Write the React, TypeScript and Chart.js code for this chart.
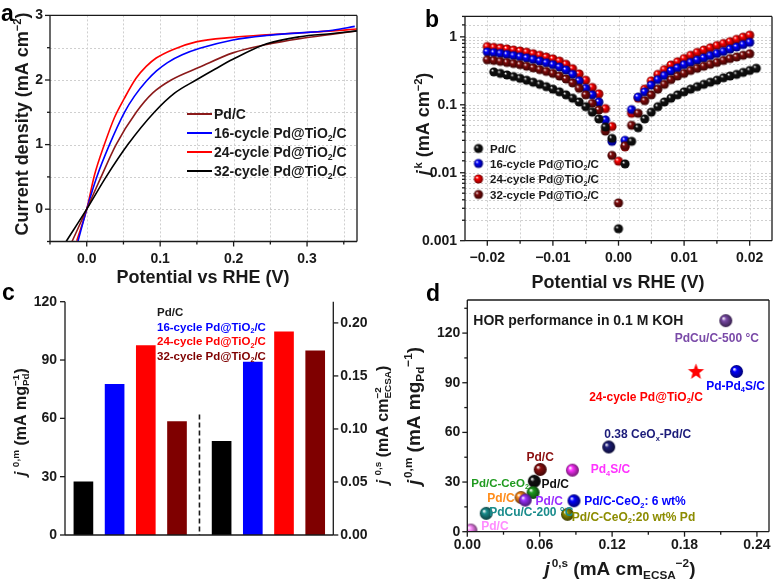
import React, { useEffect, useRef } from 'react';
import { Chart, registerables } from 'chart.js';
Chart.register(...registerables);

const W = 778;
const H = 582;
const FAM = '"Liberation Sans", Arial, Helvetica, sans-serif';
const INK = '#1a1a1a';

// ---------- Panel a : polarization curves ----------
const aV_PdC = [-0.020, 0, 0.0196, 0.040, 0.0674, 0.090, 0.115, 0.154, 0.199, 0.245, 0.290, 0.335, 0.368];
const aJ_PdC = [-0.50, 0, 0.50, 1.00, 1.50, 1.80, 2.00, 2.20, 2.42, 2.55, 2.64, 2.71, 2.76];
const aV_16 = [-0.012, 0, 0.0137, 0.031, 0.0514, 0.065, 0.081, 0.095, 0.110, 0.130, 0.154, 0.199, 0.245, 0.290, 0.335, 0.365];
const aJ_16 = [-0.50, 0, 0.50, 1.00, 1.50, 1.75, 1.98, 2.14, 2.27, 2.39, 2.49, 2.62, 2.69, 2.73, 2.77, 2.83];
const aV_24 = [-0.0136, 0, 0.0105, 0.024, 0.0378, 0.0514, 0.0674, 0.081, 0.0946, 0.117, 0.149, 0.199, 0.245, 0.290, 0.335, 0.368];
const aJ_24 = [-0.49, 0, 0.525, 1.00, 1.42, 1.72, 2.03, 2.21, 2.34, 2.47, 2.59, 2.66, 2.70, 2.73, 2.76, 2.79];
const aV_32 = [-0.028, 0, 0.0264, 0.056, 0.092, 0.120, 0.149, 0.175, 0.199, 0.245, 0.290, 0.335, 0.368];
const aJ_32 = [-0.50, 0, 0.50, 1.00, 1.50, 1.80, 2.00, 2.17, 2.32, 2.56, 2.67, 2.72, 2.76];

// ---------- Panel b : kinetic current (log) ----------
const bV = [-0.020, -0.019, -0.018, -0.017, -0.016, -0.015, -0.014, -0.013, -0.012, -0.011,
  -0.010, -0.009, -0.008, -0.007, -0.006, -0.005, -0.004, -0.003, -0.002, -0.001,
  0.000, 0.001, 0.002, 0.003, 0.004, 0.005, 0.006, 0.007, 0.008, 0.009,
  0.010, 0.011, 0.012, 0.013, 0.014, 0.015, 0.016, 0.017, 0.018, 0.019, 0.020, 0.021];
const bPdC = [null, 0.305, 0.29, 0.275, 0.26, 0.245, 0.23, 0.215, 0.2, 0.185,
  0.17, 0.155, 0.14, 0.125, 0.11, 0.094, 0.078, 0.062, 0.047, 0.032,
  0.0015, 0.0135, 0.029, 0.046, 0.062, 0.078, 0.094, 0.11, 0.125, 0.14,
  0.155, 0.17, 0.185, 0.2, 0.215, 0.23, 0.25, 0.265, 0.28, 0.3, 0.32, 0.345];
const b16 = [0.60, 0.585, 0.57, 0.55, 0.53, 0.51, 0.49, 0.465, 0.44, 0.415,
  0.39, 0.36, 0.325, 0.28, 0.225, 0.175, 0.14, 0.11, 0.06, 0.029,
  null, 0.03, 0.085, 0.13, 0.155, 0.195, 0.235, 0.27, 0.315, 0.35,
  0.39, 0.42, 0.455, 0.49, 0.53, 0.57, 0.61, 0.66, 0.71, 0.77, 0.83, null];
const b24 = [0.72, 0.70, 0.685, 0.665, 0.64, 0.62, 0.595, 0.565, 0.535, 0.505,
  0.475, 0.44, 0.395, 0.34, 0.285, 0.23, 0.18, 0.145, 0.088, 0.048,
  0.0148, 0.024, 0.075, 0.125, 0.17, 0.225, 0.28, 0.33, 0.385, 0.43,
  0.48, 0.535, 0.59, 0.64, 0.69, 0.745, 0.80, 0.85, 0.92, 0.99, 1.06, null];
const b32 = [0.46, 0.45, 0.435, 0.42, 0.405, 0.39, 0.37, 0.35, 0.33, 0.31,
  0.29, 0.265, 0.24, 0.21, 0.175, 0.14, 0.105, 0.084, 0.041, 0.018,
  0.0036, 0.025, 0.05, 0.075, 0.115, 0.14, 0.17, 0.2, 0.235, 0.265,
  0.29, 0.32, 0.345, 0.37, 0.395, 0.42, 0.45, 0.48, 0.505, 0.535, 0.565, null];

// ---------- Panel c : exchange current bars ----------
const cMassX = [1, 2, 3, 4];
const cMassY = [27.4, 77.5, 97.4, 58.3];
const cAreaX = [5.43, 6.43, 7.43, 8.43];
const cAreaY = [0.0883, 0.163, 0.1917, 0.1736];
const cColors = ['#000000', '#0000ff', '#ff0000', '#7f0000'];
const cDividerX = 4.72;
const cDividerTop = 62;

// ---------- Panel d : literature comparison ----------
const dNames = ['PdCu/C-500 °C', 'Pd-Pd4S/C', '0.38 CeOx-Pd/C', 'Pd/C', 'Pd4S/C', 'Pd/C', 'Pd/C-CeO2',
  'Pd/C', 'Pd/C', 'Pd/C-CeO2: 6 wt%', 'PdCu/C-200 °C', 'Pd/C-CeO2:20 wt% Pd', 'Pd/C'];
const dX = [0.2142, 0.2231, 0.1172, 0.0604, 0.0871, 0.0555, 0.0545, 0.0445, 0.048, 0.0884, 0.0157, 0.083, 0.003];
const dY = [127.5, 96.8, 51.2, 37.6, 37.2, 30.5, 23.7, 20.7, 19.1, 18.7, 11.1, 10.5, 1.0];
const dColors = ['#7a4aa8', '#0000ff', '#1c1c7a', '#8b1010', '#ff33ff', '#111111', '#1f9a1f',
  '#ff8c1a', '#9b30ff', '#0000ff', '#1a8c8c', '#8c8c00', '#ff8cff'];
const dStarX = [0.1895];
const dStarY = [96.8];
const dStarName = '24-cycle Pd@TiO2/C';
// label offsets from each marker (px)
const dLabelDx = [-9, -1, 39, 0, 38, 21, -33, -20, 24, 61, 45, 66, 24];
const dLabelDy = [17, 14, -13, -13, -1, 2, -10, 0, 1, 0, -2, 2, -4];

type Seg = { t: string; s?: 'sup' | 'sub'; it?: boolean; st?: [string, string] };
const T = (t: string): Seg => ({ t });
const SUP = (t: string): Seg => ({ t, s: 'sup' });
const SUB = (t: string): Seg => ({ t, s: 'sub' });
const IT = (t: string): Seg => ({ t, it: true });

function richName(name: string): Seg[] {
  const map: Record<string, Seg[]> = {
    'Pd-Pd4S/C': [T('Pd-Pd'), SUB('4'), T('S/C')],
    'Pd4S/C': [T('Pd'), SUB('4'), T('S/C')],
    '0.38 CeOx-Pd/C': [T('0.38 CeO'), SUB('x'), T('-Pd/C')],
    'Pd/C-CeO2': [T('Pd/C-CeO'), SUB('2')],
    'Pd/C-CeO2: 6 wt%': [T('Pd/C-CeO'), SUB('2'), T(': 6 wt%')],
    'Pd/C-CeO2:20 wt% Pd': [T('Pd/C-CeO'), SUB('2'), T(':20 wt% Pd')],
  };
  if (map[name]) return map[name];
  const m = name.match(/^(.*)TiO2(.*)$/);
  if (m) return [T(m[1] + 'TiO'), SUB('2'), T(m[2])];
  return [T(name)];
}

const seriesNames = ['Pd/C', '16-cycle Pd@TiO2/C', '24-cycle Pd@TiO2/C', '32-cycle Pd@TiO2/C'];

function fnt(size: number, it = false) {
  return `${it ? 'italic ' : ''}bold ${size}px ${FAM}`;
}
function segW(ctx: CanvasRenderingContext2D, g: Seg, size: number) {
  if (g.st) {
    ctx.font = fnt(size * 0.62);
    return Math.max(ctx.measureText(g.st[0]).width, ctx.measureText(g.st[1]).width);
  }
  ctx.font = fnt(g.s ? size * 0.62 : size, g.it);
  return ctx.measureText(g.t).width + (g.it ? size * 0.1 : 0);
}
function rich(ctx: CanvasRenderingContext2D, segs: Seg[], x: number, y: number, size: number, color: string,
  align: 'left' | 'center' = 'left', rot = 0) {
  ctx.save();
  ctx.translate(x, y);
  if (rot) ctx.rotate(rot);
  ctx.fillStyle = color;
  ctx.textAlign = 'left';
  ctx.textBaseline = 'alphabetic';
  const ws = segs.map((g) => segW(ctx, g, size));
  const total = ws.reduce((a, b) => a + b, 0);
  let cx = align === 'center' ? -total / 2 : 0;
  const base = size * 0.36;
  segs.forEach((g, i) => {
    if (g.st) {
      ctx.font = fnt(size * 0.62);
      ctx.fillText(g.st[0], cx, base - size * 0.45);
      ctx.fillText(g.st[1], cx, base + size * 0.22);
    } else {
      ctx.font = fnt(g.s ? size * 0.62 : size, g.it);
      const dy = g.s === 'sup' ? -size * 0.42 : g.s === 'sub' ? size * 0.22 : 0;
      ctx.fillText(g.t, cx, base + dy);
    }
    cx += ws[i];
  });
  ctx.restore();
}
function letter(ctx: CanvasRenderingContext2D, t: string, x: number, y: number) {
  ctx.save();
  ctx.font = `bold 23px ${FAM}`;
  ctx.fillStyle = '#000';
  ctx.textAlign = 'left';
  ctx.textBaseline = 'alphabetic';
  ctx.fillText(t, x, y);
  ctx.restore();
}

function shade(hex: string, f: number) {
  const n = parseInt(hex.slice(1), 16);
  const r = Math.round(((n >> 16) & 255) * f);
  const g = Math.round(((n >> 8) & 255) * f);
  const b = Math.round((n & 255) * f);
  return `rgb(${r},${g},${b})`;
}
function makeSphere(color: string, r: number): HTMLCanvasElement {
  const s = Math.ceil(2 * r + 2);
  const c = document.createElement('canvas');
  c.width = s;
  c.height = s;
  const g = c.getContext('2d')!;
  const cx = s / 2, cy = s / 2;
  const grad = g.createRadialGradient(cx - r * 0.38, cy - r * 0.38, r * 0.05, cx, cy, r);
  grad.addColorStop(0, '#ffffff');
  grad.addColorStop(0.3, color);
  grad.addColorStop(1, shade(color, 0.45));
  g.fillStyle = grad;
  g.beginPath();
  g.arc(cx, cy, r, 0, Math.PI * 2);
  g.fill();
  return c;
}
function makeStar(color: string, R: number): HTMLCanvasElement {
  const s = Math.ceil(2 * R + 2);
  const c = document.createElement('canvas');
  c.width = s;
  c.height = s;
  const g = c.getContext('2d')!;
  g.fillStyle = color;
  g.beginPath();
  for (let i = 0; i < 10; i++) {
    const rr = i % 2 === 0 ? R : R * 0.42;
    const ang = -Math.PI / 2 + (i * Math.PI) / 5;
    const px = s / 2 + rr * Math.cos(ang);
    const py = s / 2 + 0.5 + rr * Math.sin(ang);
    if (i === 0) g.moveTo(px, py); else g.lineTo(px, py);
  }
  g.closePath();
  g.fill();
  return c;
}

type Side = 'left' | 'right' | 'bottom';
function scaleOpt(o: {
  pos: Side; min: number; max: number; step?: number; size: number; pad: number;
  label?: (v: number) => string; type?: string; showLabels?: boolean;
}) {
  return {
    type: o.type || 'linear',
    position: o.pos,
    min: o.min,
    max: o.max,
    offset: false,
    grid: { display: false, drawOnChartArea: false, drawTicks: false },
    border: { display: false },
    ticks: {
      display: o.showLabels !== false,
      stepSize: o.step,
      autoSkip: false,
      maxRotation: 0,
      minRotation: 0,
      includeBounds: false,
      padding: o.pad,
      color: INK,
      font: { family: FAM, size: 14, weight: 'bold' },
      callback: (v: any) => (o.label ? o.label(Number(v)) : ''),
    },
    afterFit: (s: any) => {
      if (o.pos === 'bottom') s.height = o.size; else s.width = o.size;
    },
  };
}

function decor(o: {
  axes: { id: string; side: Side; major: (v: number) => boolean }[];
  frame: string[];
  gridX?: string;
  gridY?: string;
  text?: (ctx: CanvasRenderingContext2D, chart: any) => void;
}) {
  return {
    id: 'decor',
    beforeDatasetsDraw(chart: any) {
      const ctx = chart.ctx as CanvasRenderingContext2D;
      const a = chart.chartArea;
      ctx.save();
      ctx.strokeStyle = '#cfcfcf';
      ctx.lineWidth = 1;
      ctx.setLineDash([2, 2]);
      if (o.gridX) {
        const s = chart.scales[o.gridX];
        for (const t of s.ticks) {
          const x = Math.round(s.getPixelForValue(t.value)) + 0.5;
          if (x <= a.left + 1 || x >= a.right - 1) continue;
          ctx.beginPath(); ctx.moveTo(x, a.top); ctx.lineTo(x, a.bottom); ctx.stroke();
        }
      }
      if (o.gridY) {
        const s = chart.scales[o.gridY];
        for (const t of s.ticks) {
          const y = Math.round(s.getPixelForValue(t.value)) + 0.5;
          if (y <= a.top + 1 || y >= a.bottom - 1) continue;
          ctx.beginPath(); ctx.moveTo(a.left, y); ctx.lineTo(a.right, y); ctx.stroke();
        }
      }
      ctx.restore();
    },
    afterDraw(chart: any) {
      const ctx = chart.ctx as CanvasRenderingContext2D;
      const a = chart.chartArea;
      ctx.save();
      ctx.strokeStyle = INK;
      ctx.lineWidth = 1.3;
      ctx.setLineDash([]);
      for (const ax of o.axes) {
        const s = chart.scales[ax.id];
        for (const t of s.ticks) {
          const p = s.getPixelForValue(t.value);
          const len = ax.major(t.value) ? 5 : 3;
          ctx.beginPath();
          if (ax.side === 'left') { ctx.moveTo(a.left, p); ctx.lineTo(a.left - len, p); }
          else if (ax.side === 'right') { ctx.moveTo(a.right, p); ctx.lineTo(a.right + len, p); }
          else { ctx.moveTo(p, a.bottom); ctx.lineTo(p, a.bottom + len); }
          ctx.stroke();
        }
      }
      ctx.beginPath();
      if (o.frame.includes('top')) { ctx.moveTo(a.left, a.top); ctx.lineTo(a.right, a.top); }
      if (o.frame.includes('bottom')) { ctx.moveTo(a.left, a.bottom); ctx.lineTo(a.right, a.bottom); }
      if (o.frame.includes('left')) { ctx.moveTo(a.left, a.top); ctx.lineTo(a.left, a.bottom); }
      if (o.frame.includes('right')) { ctx.moveTo(a.right, a.top); ctx.lineTo(a.right, a.bottom); }
      ctx.stroke();
      ctx.restore();
      if (o.text) {
        ctx.save();
        o.text(ctx, chart);
        ctx.restore();
      }
    },
  };
}

function baseOptions(area: { l: number; t: number; r: number; b: number }, yW: number, xH: number, y1W: number, scales: any) {
  return {
    responsive: false,
    animation: false,
    devicePixelRatio: 1,
    events: [],
    layout: {
      padding: { left: area.l - yW, top: area.t, right: W - area.r - y1W, bottom: H - area.b - xH },
    },
    plugins: { legend: { display: false }, tooltip: { enabled: false } },
    scales,
  };
}

const multOf = (step: number) => (v: number) => Math.abs(v / step - Math.round(v / step)) < 1e-6;
const isDecade = (v: number) => { const l = Math.log10(v); return Math.abs(l - Math.round(l)) < 1e-6; };
const pts = (xs: number[], ys: (number | null)[]) => xs.map((x, i) => ({ x, y: ys[i] }));
const fmtSigned = (v: number, d: number) => (Math.abs(v) < 1e-9 ? (0).toFixed(d) : (v < 0 ? '\u2212' : '') + Math.abs(v).toFixed(d));

function chartA(cv: HTMLCanvasElement) {
  const area = { l: 50, t: 8, r: 357, b: 241.5 };
  const colA = ['#8b1a1a', '#0000ff', '#ff0000', '#000000'];
  const line = (xs: number[], ys: number[], c: string) => ({
    data: pts(xs, ys), showLine: true, borderColor: c, borderWidth: 1.6, pointRadius: 0,
    cubicInterpolationMode: 'monotone', fill: false,
  });
  return new Chart(cv, {
    type: 'scatter',
    data: {
      datasets: [
        line(aV_32, aJ_32, colA[3]), line(aV_PdC, aJ_PdC, colA[0]),
        line(aV_16, aJ_16, colA[1]), line(aV_24, aJ_24, colA[2]),
      ],
    },
    options: baseOptions(area, 40, 40, 0, {
      x: scaleOpt({ pos: 'bottom', min: -0.05, max: 0.368, step: 0.05, size: 40, pad: 9,
        label: (v) => (multOf(0.1)(v) ? v.toFixed(1) : '') }),
      y: scaleOpt({ pos: 'left', min: -0.5, max: 3, step: 0.5, size: 40, pad: 7,
        label: (v) => (multOf(1)(v) ? v.toFixed(0) : '') }),
    }),
    plugins: [decor({
      axes: [{ id: 'x', side: 'bottom', major: multOf(0.1) }, { id: 'y', side: 'left', major: multOf(1) }],
      frame: ['top', 'bottom', 'left', 'right'],
      gridX: 'x', gridY: 'y',
      text: (ctx) => {
        letter(ctx, 'a', 1, 21);
        rich(ctx, [T('Current density (mA cm'), SUP('\u22122'), T(')')], 22, 124, 18, INK, 'center', -Math.PI / 2);
        rich(ctx, [T('Potential vs RHE (V)')], 203, 277, 18, INK, 'center');
        const rows = [114, 133, 152, 171];
        seriesNames.forEach((n, i) => {
          ctx.strokeStyle = colA[i];
          ctx.lineWidth = 2;
          ctx.beginPath(); ctx.moveTo(187, rows[i]); ctx.lineTo(212, rows[i]); ctx.stroke();
          rich(ctx, richName(n), 214, rows[i], 14, INK, 'left');
        });
      },
    })],
  } as any);
}

function chartB(cv: HTMLCanvasElement) {
  const area = { l: 465, t: 8, r: 772, b: 240.7 };
  const colB = ['#111111', '#0000ff', '#ff0000', '#7f0a0a'];
  const sph = colB.map((c) => makeSphere(c, 4.6));
  const sers = [bPdC, b16, b24, b32];
  const ds = (i: number) => ({
    data: pts(bV, sers[i]), pointStyle: sph[i], pointRadius: 4.6, showLine: false,
  });
  return new Chart(cv, {
    type: 'scatter',
    data: { datasets: [ds(0), ds(3), ds(1), ds(2)] },
    options: baseOptions(area, 45, 40, 0, {
      x: scaleOpt({ pos: 'bottom', min: -0.0234, max: 0.0234, step: 0.005, size: 40, pad: 9,
        label: (v) => (multOf(0.01)(v) ? fmtSigned(v, 2) : '') }),
      y: scaleOpt({ type: 'logarithmic', pos: 'left', min: 0.001, max: 2, size: 45, pad: 8,
        label: (v) => (isDecade(v) ? String(Number(v.toPrecision(1))) : '') }),
    }),
    plugins: [decor({
      axes: [{ id: 'x', side: 'bottom', major: multOf(0.01) }, { id: 'y', side: 'left', major: isDecade }],
      frame: ['top', 'bottom', 'left', 'right'],
      gridX: 'x', gridY: 'y',
      text: (ctx) => {
        letter(ctx, 'b', 425, 27);
        rich(ctx, [IT('j'), SUP('k'), T(' (mA cm'), SUP('\u22122'), T(')')], 423, 124, 18, INK, 'center', -Math.PI / 2);
        rich(ctx, [T('Potential vs RHE (V)')], 618, 282, 18, INK, 'center');
        const rows = [148.5, 163.5, 179, 194.5];
        seriesNames.forEach((n, i) => {
          const s = sph[i];
          ctx.drawImage(s, 478.5 - s.width / 2, rows[i] - s.height / 2);
          rich(ctx, richName(n), 490, rows[i], 11.5, INK, 'left');
        });
      },
    })],
  } as any);
}

function chartC(cv: HTMLCanvasElement) {
  const area = { l: 65, t: 301.7, r: 333.3, b: 535 };
  return new Chart(cv, {
    type: 'bar',
    data: {
      datasets: [
        { data: pts(cMassX, cMassY), yAxisID: 'y', backgroundColor: cColors, barThickness: 19, grouped: false, borderWidth: 0 },
        { data: pts(cAreaX, cAreaY), yAxisID: 'y1', backgroundColor: cColors, barThickness: 19, grouped: false, borderWidth: 0 },
      ],
    },
    options: baseOptions(area, 40, 30, 50, {
      x: scaleOpt({ pos: 'bottom', min: 0.41, max: 9.01, step: 10, size: 30, pad: 5, showLabels: false }),
      y: scaleOpt({ pos: 'left', min: 0, max: 120, step: 30, size: 40, pad: 8, label: (v) => v.toFixed(0) }),
      y1: scaleOpt({ pos: 'right', min: 0, max: 0.22, step: 0.05, size: 50, pad: 7, label: (v) => v.toFixed(2) }),
    }),
    plugins: [decor({
      axes: [{ id: 'y', side: 'left', major: () => true }, { id: 'y1', side: 'right', major: () => true }],
      frame: ['bottom', 'left', 'right'],
      text: (ctx, chart) => {
        const xs = chart.scales.x, ys = chart.scales.y;
        const dx = xs.getPixelForValue(cDividerX);
        ctx.strokeStyle = INK;
        ctx.lineWidth = 1.6;
        ctx.setLineDash([5, 3]);
        ctx.beginPath(); ctx.moveTo(dx, ys.getPixelForValue(cDividerTop)); ctx.lineTo(dx, ys.getPixelForValue(0)); ctx.stroke();
        ctx.setLineDash([]);
        letter(ctx, 'c', 2, 300);
        rich(ctx, [IT('j'), SUP(' 0,m'), T(' (mA mg'), { t: '', st: ['\u22121', 'Pd'] }, T(')')], 20, 422, 16, INK, 'center', -Math.PI / 2);
        rich(ctx, [IT('j'), SUP(' 0,s'), T(' (mA cm'), { t: '', st: ['\u22122', 'ECSA'] }, T(')')], 382, 425, 16, INK, 'center', -Math.PI / 2);
        const rows = [312.3, 326.7, 341, 355.7];
        seriesNames.forEach((n, i) => rich(ctx, richName(n), 157, rows[i], 11.5, cColors[i] === '#000000' ? INK : cColors[i], 'left'));
      },
    })],
  } as any);
}

function chartD(cv: HTMLCanvasElement) {
  const area = { l: 467.3, t: 300, r: 776.5, b: 531.7 };
  const sph = dColors.map((c) => makeSphere(c, 6.5));
  const star = makeStar('#ff0000', 8.5);
  return new Chart(cv, {
    type: 'scatter',
    data: {
      datasets: [
        { data: pts(dX, dY), pointStyle: sph, pointRadius: 6.5 },
        { data: pts(dStarX, dStarY), pointStyle: star, pointRadius: 8 },
      ],
    },
    options: baseOptions(area, 45, 30, 0, {
      x: scaleOpt({ pos: 'bottom', min: 0, max: 0.25, step: 0.03, size: 30, pad: 5,
        label: (v) => (multOf(0.06)(v) ? v.toFixed(2) : '') }),
      y: scaleOpt({ pos: 'left', min: 0, max: 140, step: 15, size: 45, pad: 7,
        label: (v) => (multOf(30)(v) ? v.toFixed(0) : '') }),
    }),
    plugins: [decor({
      axes: [{ id: 'x', side: 'bottom', major: multOf(0.06) }, { id: 'y', side: 'left', major: multOf(30) }],
      frame: ['top', 'bottom', 'left', 'right'],
      text: (ctx, chart) => {
        const xs = chart.scales.x, ys = chart.scales.y;
        letter(ctx, 'd', 426, 301);
        rich(ctx, [IT('j'), SUP('0,m'), T(' (mA mg'), SUB('Pd'), SUP('\u22121'), T(')')], 413, 416, 19, INK, 'center', -Math.PI / 2);
        rich(ctx, [IT('j'), SUP('0,s'), T(' (mA cm'), SUB('ECSA'), SUP('\u22122'), T(')')], 620, 568, 19, INK, 'center');
        rich(ctx, [T('HOR performance in 0.1 M KOH')], 473.3, 320, 14, INK, 'left');
        dNames.forEach((n, i) => {
          const px = xs.getPixelForValue(dX[i]) + dLabelDx[i];
          const py = ys.getPixelForValue(dY[i]) + dLabelDy[i];
          rich(ctx, richName(n), px, py, i === 6 ? 11.5 : 12, dColors[i], 'center');
        });
        rich(ctx, richName(dStarName), xs.getPixelForValue(dStarX[0]) - 50, ys.getPixelForValue(dStarY[0]) + 25, 12, '#ff0000', 'center');
      },
    })],
  } as any);
}

export default function App() {
  const ra = useRef<HTMLCanvasElement>(null);
  const rb = useRef<HTMLCanvasElement>(null);
  const rc = useRef<HTMLCanvasElement>(null);
  const rd = useRef<HTMLCanvasElement>(null);
  useEffect(() => {
    document.body.style.margin = '0';
    const charts = [chartA(ra.current!), chartB(rb.current!), chartC(rc.current!), chartD(rd.current!)];
    return () => charts.forEach((c) => c.destroy());
  }, []);
  const st: React.CSSProperties = { position: 'absolute', left: 0, top: 0, width: W, height: H };
  return (
    <div style={{ position: 'absolute', left: 0, top: 0, width: W, height: H, background: '#ffffff', overflow: 'hidden' }}>
      <canvas ref={ra} width={W} height={H} style={st} />
      <canvas ref={rb} width={W} height={H} style={st} />
      <canvas ref={rc} width={W} height={H} style={st} />
      <canvas ref={rd} width={W} height={H} style={st} />
    </div>
  );
}
